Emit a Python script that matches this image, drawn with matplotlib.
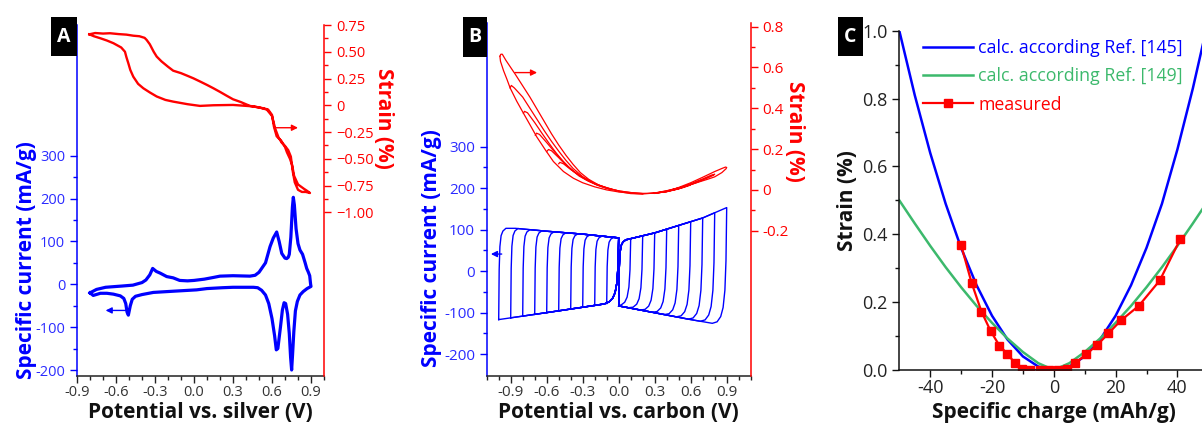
import numpy as np
import matplotlib
matplotlib.use('Agg')
import matplotlib.pyplot as plt
from matplotlib.patches import Rectangle

plt.rcParams['font.family'] = ['Open Sans', 'DejaVu Sans']
plt.rcParams['axes.unicode_minus'] = False

BLUE = '#0000ff'
RED = '#ff0000'
GREEN = '#3cb96c'
TICK_BLUE = '#2b2bff'
GRAY = '#333333'

# ---------------- Panel A data ----------------
A_CV_V = [-0.80, -0.75, -0.68, -0.62, -0.55, -0.47, -0.40, -0.37, -0.34, -0.318, -0.29, -0.26,
          -0.21, -0.16, -0.11, -0.05, 0.00, 0.08, 0.15, 0.20, 0.30, 0.43, 0.47, 0.50, 0.55,
          0.585, 0.61, 0.636, 0.655, 0.675, 0.70, 0.713, 0.725, 0.733, 0.745, 0.757, 0.764,
          0.772, 0.785, 0.80, 0.815, 0.835, 0.855, 0.867, 0.88, 0.89, 0.897, 0.90,
          0.87, 0.84, 0.815, 0.795, 0.78, 0.768, 0.758, 0.751, 0.743, 0.733, 0.72, 0.705,
          0.693, 0.68, 0.665, 0.645, 0.633, 0.62, 0.60, 0.575, 0.55, 0.52, 0.49, 0.457,
          0.30, 0.22, 0.10, 0.02, -0.15, -0.313, -0.40, -0.45, -0.475, -0.49, -0.505,
          -0.515, -0.525, -0.54, -0.567, -0.62, -0.67, -0.72, -0.775, -0.80]
A_CV_I = [-20, -12, -7, -5.6, -4, -2, 4, 10, 22, 37, 30, 26,
          18, 15, 9, 8, 9, 12, 16, 19, 20, 19, 21, 28, 50,
          88, 108, 122, 100, 72, 61, 60, 63, 70, 110, 180, 203,
          185, 130, 95, 80, 70, 50, 37, 28, 20, 0, -5,
          -10, -17, -25, -40, -62, -110, -165, -200, -170, -115, -70, -45,
          -43, -60, -100, -150, -153, -120, -80, -45, -25, -14, -8, -7,
          -7, -8, -10, -13, -16, -19, -24, -28, -35, -50, -72,
          -65, -45, -33, -27, -23, -21, -21, -26, -20]

A_STRAIN_V = [-0.805, -0.76, -0.70, -0.646, -0.58, -0.52, -0.467, -0.42, -0.38, -0.364, -0.34,
              -0.31, -0.287, -0.25, -0.20, -0.16, -0.10, -0.05, -0.005, 0.05, 0.10, 0.149,
              0.20, 0.25, 0.30, 0.36, 0.43, 0.50, 0.56, 0.60, 0.625, 0.65, 0.675, 0.70,
              0.725, 0.745, 0.76, 0.775, 0.80, 0.83, 0.86, 0.892,
              0.87, 0.845, 0.80, 0.77, 0.755, 0.738, 0.715, 0.70, 0.67, 0.636, 0.615,
              0.60, 0.57, 0.533, 0.45, 0.30, 0.15, 0.046, -0.05, -0.16, -0.22, -0.287,
              -0.34, -0.39, -0.43, -0.467, -0.49, -0.505, -0.52, -0.531, -0.56, -0.62,
              -0.67, -0.72, -0.77, -0.805]
A_STRAIN_S = [0.663, 0.675, 0.670, 0.673, 0.665, 0.660, 0.650, 0.645, 0.630, 0.610, 0.570,
              0.500, 0.455, 0.410, 0.360, 0.323, 0.300, 0.275, 0.252, 0.220, 0.190, 0.159,
              0.125, 0.090, 0.056, 0.030, -0.006, -0.020, -0.040, -0.100, -0.220, -0.300,
              -0.350, -0.380, -0.420, -0.480, -0.620, -0.720, -0.790, -0.810, -0.810, -0.820,
              -0.800, -0.780, -0.740, -0.660, -0.560, -0.500, -0.440, -0.390, -0.330, -0.290,
              -0.200, -0.090, -0.040, -0.028, -0.010, 0.003, 0.000, -0.006, 0.010, 0.034,
              0.050, 0.082, 0.120, 0.159, 0.200, 0.267, 0.330, 0.392, 0.450, 0.500, 0.540,
              0.580, 0.605, 0.626, 0.645, 0.663]

# ---------------- Panel B data ----------------
B_TOP_L_V = [-1.0, -0.86, -0.6, -0.3, 0.0]
B_TOP_L_I = [103, 103, 96, 89, 80]
B_BOT_L_V = [-1.0, -0.5, 0.0]
B_BOT_L_I = [-117, -96, -74]
B_TOP_R_V = [0.0, 0.07, 0.3, 0.5, 0.7, 0.9]
B_TOP_R_I = [73, 76, 92, 110, 128, 153]
B_BOT_R_V = [0.0, 0.2, 0.4, 0.6, 0.8, 0.9]
B_BOT_R_I = [-84, -95, -106, -117, -127, -132]
B_VERTEX_L = [-1.0, -0.9, -0.8, -0.7, -0.6, -0.5, -0.4, -0.3, -0.2, -0.1]
B_VERTEX_R = [0.1, 0.2, 0.3, 0.4, 0.5, 0.6, 0.7, 0.8, 0.9]
# shape of the switching corners (offset in V, fraction of the current step)
FAST_DX = [0.0, 0.004, 0.01, 0.02, 0.035, 0.06]
FAST_FR = [0.0, 0.55, 0.80, 0.92, 0.97, 1.0]
SLOW_DX = [0.0, 0.006, 0.015, 0.03, 0.05, 0.08, 0.12]
SLOW_FR = [0.0, 0.45, 0.70, 0.85, 0.93, 0.98, 1.0]

# strain loops (left side, negative vertices)
B_SL_LOWER_V = [-0.99, -0.985, -0.96, -0.93, -0.905, -0.85, -0.794, -0.74, -0.683, -0.61,
                -0.544, -0.46, -0.377, -0.30, -0.20, -0.10, 0.0, 0.1, 0.2]
B_SL_LOWER_S = [0.655, 0.63, 0.585, 0.54, 0.50, 0.435, 0.376, 0.32, 0.26, 0.195,
                0.139, 0.09, 0.057, 0.035, 0.015, 0.0, -0.01, -0.016, -0.02]
B_SL_UPPER = {
    -1.0: ([-0.99, -0.982, -0.97, -0.94, -0.90, -0.86, -0.80, -0.74, -0.68, -0.62, -0.56,
            -0.50, -0.44, -0.38, -0.32, -0.25, -0.17, -0.09, 0.0, 0.1, 0.2],
           [0.655, 0.665, 0.665, 0.635, 0.60, 0.565, 0.51, 0.455, 0.395, 0.335, 0.275,
            0.22, 0.17, 0.125, 0.085, 0.052, 0.025, 0.008, -0.005, -0.013, -0.018]),
    -0.9: ([-0.905, -0.895, -0.87, -0.80, -0.74, -0.68, -0.62, -0.56, -0.50, -0.44, -0.38,
            -0.30, -0.20, -0.10, 0.0],
           [0.50, 0.512, 0.50, 0.455, 0.40, 0.345, 0.29, 0.238, 0.19, 0.145, 0.105,
            0.065, 0.03, 0.008, -0.005]),
    -0.8: ([-0.794, -0.785, -0.76, -0.70, -0.64, -0.58, -0.52, -0.46, -0.40, -0.33, -0.25,
            -0.15, -0.05],
           [0.376, 0.385, 0.378, 0.33, 0.278, 0.228, 0.18, 0.138, 0.102, 0.068, 0.042,
            0.018, 0.0]),
    -0.7: ([-0.695, -0.685, -0.66, -0.60, -0.54, -0.48, -0.42, -0.35, -0.27, -0.18, -0.08],
           [0.268, 0.278, 0.272, 0.232, 0.19, 0.15, 0.114, 0.08, 0.049, 0.023, 0.004]),
    -0.6: ([-0.60, -0.585, -0.56, -0.50, -0.44, -0.37, -0.29, -0.20, -0.10, 0.0],
           [0.188, 0.198, 0.192, 0.158, 0.122, 0.088, 0.057, 0.031, 0.01, -0.005]),
    -0.5: ([-0.50, -0.49, -0.46, -0.40, -0.33, -0.25, -0.16, -0.06],
           [0.128, 0.135, 0.128, 0.1, 0.072, 0.046, 0.022, 0.004]),
}
# strain loops (right side, positive vertices): (upper V, upper S, lower V, lower S)
B_SR = {
    0.9: ([0.0, 0.1, 0.2, 0.3, 0.4, 0.5, 0.6, 0.7, 0.8, 0.86, 0.89, 0.90],
          [-0.005, -0.013, -0.017, -0.016, -0.008, 0.012, 0.035, 0.062, 0.09, 0.105, 0.112, 0.11],
          [0.90, 0.895, 0.86, 0.80, 0.74, 0.68, 0.60, 0.50, 0.40, 0.30, 0.20, 0.10, 0.0],
          [0.11, 0.104, 0.085, 0.064, 0.052, 0.041, 0.026, 0.010, -0.004, -0.015, -0.020, -0.018, -0.008]),
    0.8: ([0.3, 0.4, 0.5, 0.6, 0.7, 0.77, 0.80],
          [-0.016, -0.008, 0.008, 0.03, 0.054, 0.072, 0.077],
          [0.80, 0.79, 0.74, 0.68, 0.60, 0.50, 0.40, 0.30],
          [0.077, 0.072, 0.058, 0.044, 0.027, 0.010, -0.005, -0.016]),
    0.7: ([0.3, 0.4, 0.5, 0.6, 0.67, 0.70],
          [-0.016, -0.008, 0.006, 0.026, 0.045, 0.05],
          [0.70, 0.69, 0.64, 0.56, 0.48, 0.40, 0.30],
          [0.05, 0.046, 0.034, 0.018, 0.005, -0.006, -0.016]),
    0.6: ([0.3, 0.4, 0.5, 0.57, 0.60],
          [-0.016, -0.009, 0.005, 0.02, 0.026],
          [0.60, 0.59, 0.54, 0.46, 0.38, 0.30],
          [0.026, 0.022, 0.012, 0.0, -0.010, -0.017]),
}

# ---------------- Panel C data ----------------
C_Q = [-50, -45, -40, -35, -30, -25, -20, -15, -10, -5, 0, 5, 10, 15, 20, 25, 30, 35, 40, 45, 50]
C_REF145 = [1.0, 0.81, 0.64, 0.49, 0.36, 0.25, 0.16, 0.09, 0.04, 0.01, 0.0, 0.01, 0.04, 0.09,
            0.16, 0.25, 0.36, 0.49, 0.65, 0.83, 1.03]
C_REF149 = [0.50, 0.432, 0.366, 0.303, 0.244, 0.189, 0.139, 0.093, 0.053, 0.020, 0.0, 0.020,
            0.053, 0.093, 0.139, 0.189, 0.244, 0.303, 0.366, 0.432, 0.50]
C_MEAS_Q = [-30.0, -26.6, -23.4, -20.4, -17.6, -15.0, -12.7, -10.4, -7.6, -4.6, -1.6, 1.4,
            4.2, 7.0, 10.5, 14.0, 17.7, 21.7, 27.5, 34.3, 41.0]
C_MEAS_S = [0.368, 0.257, 0.172, 0.114, 0.072, 0.047, 0.022, 0.004, 0.0, 0.0, 0.0, 0.0,
            0.003, 0.02, 0.047, 0.073, 0.108, 0.146, 0.189, 0.264, 0.387]

W, H = 1202, 426
fig = plt.figure(figsize=(W / 100, H / 100), dpi=100)


def ax_rect(left, right, top, bottom):
    return [left / W, (H - bottom) / H, (right - left) / W, (bottom - top) / H]


def style_twin(ax, ax2, lcol, rcol):
    ax.spines['top'].set_visible(False)
    ax.spines['right'].set_visible(False)
    ax2.spines['top'].set_visible(False)
    ax2.spines['left'].set_visible(False)
    ax2.spines['bottom'].set_visible(False)
    for sp in ['left', 'bottom']:
        ax.spines[sp].set_linewidth(1.1)
    ax2.spines['right'].set_linewidth(1.1)
    ax.spines['left'].set_color(lcol)
    ax.spines['bottom'].set_color('#222222')
    ax2.spines['right'].set_color(rcol)
    ax.tick_params(axis='x', which='both', direction='out', colors='#222222',
                   labelcolor=GRAY, labelsize=10.5, width=1, pad=1.5)
    ax.tick_params(axis='x', which='major', length=5)
    ax.tick_params(axis='x', which='minor', length=3)
    ax.tick_params(axis='y', which='both', direction='out', colors=lcol,
                   labelcolor=TICK_BLUE, labelsize=10.5, width=1)
    ax.tick_params(axis='y', which='major', length=5)
    ax.tick_params(axis='y', which='minor', length=3)
    ax2.tick_params(axis='y', which='both', direction='out', colors=rcol,
                    labelcolor=rcol, labelsize=10.5, width=1)
    ax2.tick_params(axis='y', which='major', length=5)
    ax2.tick_params(axis='y', which='minor', length=3)


def panel_label(x0, x1, y0, y1, letter):
    fig.add_artist(Rectangle((x0 / W, (H - y1) / H), (x1 - x0) / W, (y1 - y0) / H,
                             transform=fig.transFigure, facecolor='black',
                             edgecolor='none', zorder=5))
    fig.text((x0 + x1) / 2 / W, (H - (y0 + y1) / 2) / H, letter, color='white',
             fontsize=14, fontweight='bold', ha='center', va='center', zorder=6)


# ================= Panel A =================
axA = fig.add_axes(ax_rect(77, 324, 25, 376))
axA2 = axA.twinx()
style_twin(axA, axA2, BLUE, RED)
axA.plot(A_CV_V, A_CV_I, color=BLUE, lw=2.3, solid_joinstyle='round')
axA2.plot(A_STRAIN_V, A_STRAIN_S, color=RED, lw=1.7, solid_joinstyle='round')
axA.set_xlim(-0.9, 1.0)
axA.set_ylim(-214, 605)
axA2.set_ylim(-2.53, 0.75)
xt = [-0.9, -0.6, -0.3, 0.0, 0.3, 0.6, 0.9]
axA.set_xticks(xt)
axA.set_xticklabels(['-0.9', '-0.6', '-0.3', '0.0', '0.3', '0.6', '0.9'])
axA.set_xticks(np.round(np.arange(-0.9, 1.001, 0.1), 2), minor=True)
axA.set_yticks([-200, -100, 0, 100, 200, 300])
axA.set_yticklabels(['-200', '-100', '0', '100', '200', '300'])
axA.set_yticks([-150, -50, 50, 150, 250], minor=True)
axA2.set_yticks([0.75, 0.5, 0.25, 0, -0.25, -0.5, -0.75, -1.0])
axA2.set_yticklabels(['0.75', '0.50', '0.25', '0', '\u22120.25', '\u22120.50',
                      '\u22120.75', '\u22121.00'])
axA2.set_yticks([0.625, 0.375, 0.125, -0.125, -0.375, -0.625, -0.875], minor=True)
axA.set_xlabel('Potential vs. silver (V)', fontsize=15, fontweight='bold', color='#111111')
axA.xaxis.set_label_coords(0.5, -26 / 351)
axA.set_ylabel('Specific current (mA/g)', fontsize=15, fontweight='bold', color=BLUE)
axA.yaxis.set_label_coords(-40 / 247, 0.33)
axA2.set_ylabel('Strain (%)', fontsize=15, fontweight='bold', color=RED, rotation=270,
                va='center')
axA2.yaxis.set_label_coords(1 + 59 / 247, 0.735)
axA2.annotate('', xy=(0.80, -0.21), xytext=(0.63, -0.21),
              arrowprops=dict(arrowstyle='-|>', color=RED, lw=1.0, mutation_scale=9,
                              shrinkA=0, shrinkB=0))
axA.annotate('', xy=(-0.68, -61), xytext=(-0.515, -61),
             arrowprops=dict(arrowstyle='-|>', color=BLUE, lw=1.0, mutation_scale=9,
                             shrinkA=0, shrinkB=0))
panel_label(51, 77, 17, 56, 'A')

# ================= Panel B =================
axB = fig.add_axes(ax_rect(486.7, 750.7, 23, 376))
axB2 = axB.twinx()
style_twin(axB, axB2, BLUE, RED)


def top_l(x):
    return np.interp(x, B_TOP_L_V, B_TOP_L_I)


def bot_l(x):
    return np.interp(x, B_BOT_L_V, B_BOT_L_I)


def top_r(x):
    return np.interp(x, B_TOP_R_V, B_TOP_R_I)


def bot_r(x):
    return np.interp(x, B_BOT_R_V, B_BOT_R_I)


def fast(d):
    return np.interp(d, FAST_DX, FAST_FR)


def slow(d):
    return np.interp(d, SLOW_DX, SLOW_FR)


for v in B_VERTEX_L:
    xs = np.unique(np.concatenate([v + np.array(FAST_DX), np.array(B_TOP_L_V),
                                   -np.array(SLOW_DX), [v, 0.0]]))
    xs = xs[(xs >= v) & (xs <= 0.0)]
    up = bot_l(v) + (top_l(xs) - bot_l(v)) * fast(xs - v)
    lo = bot_l(xs) + (top_l(0.0) - bot_l(xs)) * (1 - slow(0.0 - xs))
    X = np.concatenate([xs, xs[::-1]])
    Y = np.concatenate([up, lo[::-1]])
    axB.plot(X, Y, color=BLUE, lw=1.0)

for v in B_VERTEX_R:
    xs = np.unique(np.concatenate([np.array(FAST_DX), np.array(B_TOP_R_V),
                                   v - np.array(SLOW_DX), np.array(B_BOT_R_V), [v]]))
    xs = xs[(xs >= 0.0) & (xs <= v)]
    up = bot_r(0.0) + (top_r(xs) - bot_r(0.0)) * fast(xs)
    lo = bot_r(xs) + (top_r(v) - bot_r(xs)) * (1 - slow(v - xs))
    X = np.concatenate([xs, xs[::-1]])
    Y = np.concatenate([up, lo[::-1]])
    axB.plot(X, Y, color=BLUE, lw=1.0)

axB2.plot(B_SL_LOWER_V, B_SL_LOWER_S, color=RED, lw=0.9)
for v, (uv, us) in B_SL_UPPER.items():
    axB2.plot(uv, us, color=RED, lw=0.9)
for v, (uv, us, lv, ls) in B_SR.items():
    axB2.plot(list(uv) + list(lv), list(us) + list(ls), color=RED, lw=0.9)

axB.set_xlim(-1.1, 1.1)
axB.set_ylim(-253, 598)
axB2.set_ylim(-0.912, 0.818)
axB.set_xticks(xt)
axB.set_xticklabels(['-0.9', '-0.6', '-0.3', '0.0', '0.3', '0.6', '0.9'])
axB.set_xticks(np.round(np.arange(-1.1, 1.101, 0.1), 2), minor=True)
axB.set_yticks([-200, -100, 0, 100, 200, 300])
axB.set_yticklabels(['-200', '-100', '0', '100', '200', '300'])
axB.set_yticks([-150, -50, 50, 150, 250], minor=True)
axB2.set_yticks([0.8, 0.6, 0.4, 0.2, 0.0, -0.2])
axB2.set_yticklabels(['0.8', '0.6', '0.4', '0.2', '0', '-0.2'])
axB2.set_yticks([0.7, 0.5, 0.3, 0.1, -0.1], minor=True)
axB.tick_params(axis='both', which='major', labelsize=11)
axB2.tick_params(axis='y', which='major', labelsize=11)
axB.set_xlabel('Potential vs. carbon (V)', fontsize=15, fontweight='bold', color='#111111')
axB.xaxis.set_label_coords(0.5, -26 / 353)
axB.set_ylabel('Specific current (mA/g)', fontsize=15, fontweight='bold', color=BLUE)
axB.yaxis.set_label_coords(-44.5 / 264, 0.363)
axB2.set_ylabel('Strain (%)', fontsize=15, fontweight='bold', color=RED, rotation=270,
                va='center')
axB2.yaxis.set_label_coords(1 + 44 / 264, 0.694)
axB2.annotate('', xy=(-0.68, 0.575), xytext=(-0.865, 0.575),
              arrowprops=dict(arrowstyle='-|>', color=RED, lw=1.0, mutation_scale=9,
                              shrinkA=0, shrinkB=0))
axB.annotate('', xy=(-1.065, 41), xytext=(-0.975, 41),
             arrowprops=dict(arrowstyle='-|>', color=BLUE, lw=1.0, mutation_scale=9,
                             shrinkA=0, shrinkB=0))
panel_label(463, 487, 17, 57, 'B')

# ================= Panel C =================
axC = fig.add_axes(ax_rect(899.3, 1208.3, 30.7, 370))
axC.spines['top'].set_visible(False)
axC.spines['right'].set_visible(False)
for sp in ['left', 'bottom']:
    axC.spines[sp].set_linewidth(1.1)
    axC.spines[sp].set_color('#111111')
axC.plot(C_Q, C_REF145, color=BLUE, lw=1.8, label='calc. according Ref. [145]')
axC.plot(C_Q, C_REF149, color=GREEN, lw=1.8, label='calc. according Ref. [149]')
axC.plot(C_MEAS_Q, C_MEAS_S, color=RED, lw=1.6, marker='s', ms=6, mec=RED, mfc=RED,
         label='measured')
axC.set_xlim(-50, 50)
axC.set_ylim(0, 1.0)
axC.set_xticks([-40, -20, 0, 20, 40])
axC.set_xticklabels(['-40', '-20', '0', '20', '40'])
axC.set_xticks([-30, -10, 10, 30], minor=True)
axC.set_yticks([0, 0.2, 0.4, 0.6, 0.8, 1.0])
axC.set_yticklabels(['0.0', '0.2', '0.4', '0.6', '0.8', '1.0'])
axC.set_yticks([0.1, 0.3, 0.5, 0.7, 0.9], minor=True)
axC.tick_params(which='both', direction='out', colors='#111111', labelcolor='#222222',
                labelsize=13, width=1)
axC.tick_params(axis='x', which='both', pad=1.5)
axC.tick_params(which='major', length=5)
axC.tick_params(which='minor', length=3)
axC.set_xlabel('Specific charge (mAh/g)', fontsize=15, fontweight='bold', color='#111111')
axC.xaxis.set_label_coords(0.5, -32 / 339.3)
axC.set_ylabel('Strain (%)', fontsize=15, fontweight='bold', color='#111111')
axC.yaxis.set_label_coords(-41 / 309, 0.498)
leg = axC.legend(loc='upper left', bbox_to_anchor=(0.065, 0.985), frameon=False,
                 fontsize=12.8, handlelength=2.8, handletextpad=0.3, labelspacing=0.57,
                 borderaxespad=0.0, borderpad=0.2, labelcolor='linecolor')
panel_label(838, 863, 17, 56, 'C')

fig.savefig('out.png', dpi=100)
